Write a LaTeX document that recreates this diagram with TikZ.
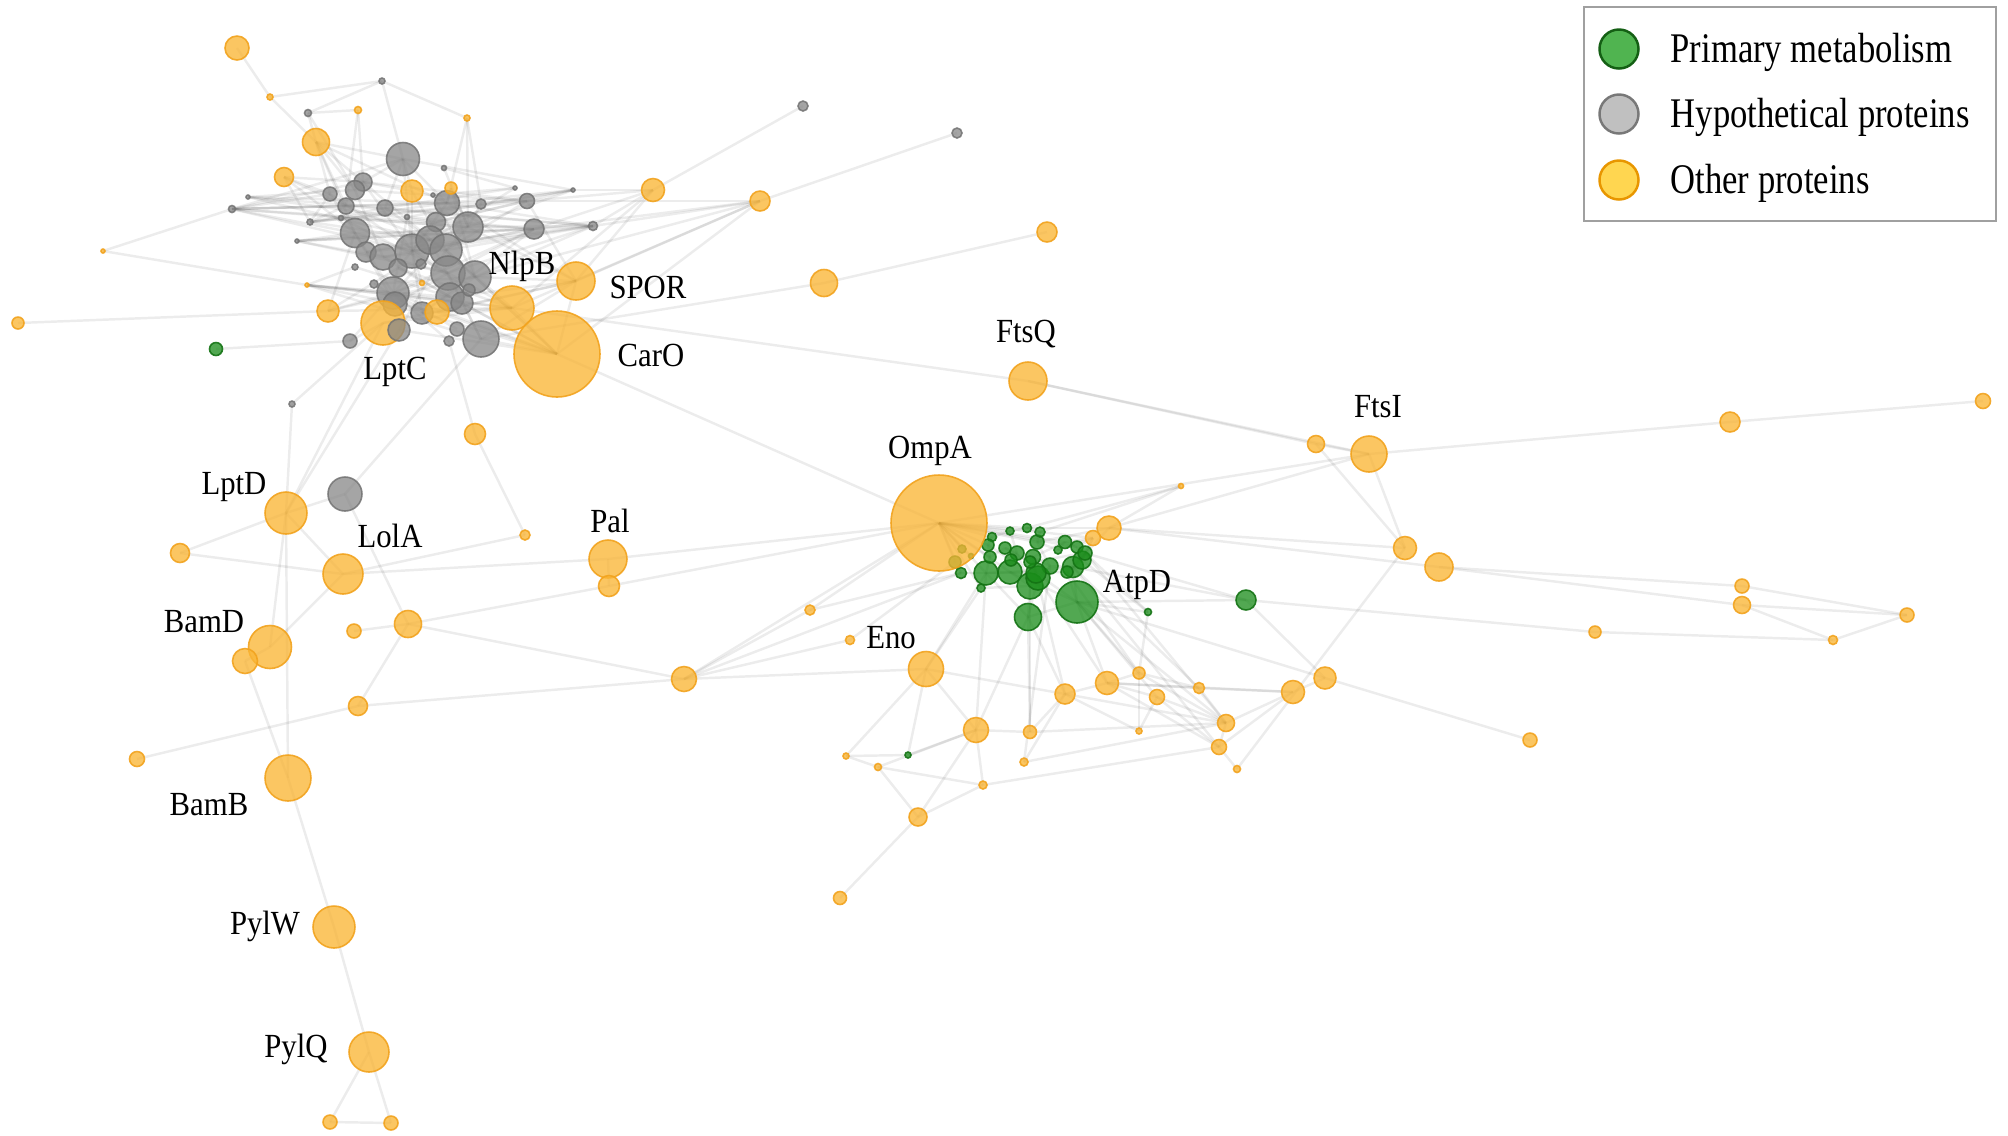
\documentclass[tikz,border=0pt]{standalone}
\usepackage{fontspec}
\usepackage{graphicx}
\setmainfont{Liberation Serif}
\usetikzlibrary{backgrounds}
\definecolor{orfill}{RGB}{250,182,55}
\definecolor{ordraw}{RGB}{242,163,30}
\definecolor{gyfill}{RGB}{135,135,135}
\definecolor{gydraw}{RGB}{115,115,115}
\definecolor{gnfill}{RGB}{25,140,25}
\definecolor{gndraw}{RGB}{20,115,20}
\definecolor{lgA}{RGB}{80,180,80}
\definecolor{lgAd}{RGB}{20,95,20}
\definecolor{lgB}{RGB}{192,192,192}
\definecolor{lgBd}{RGB}{120,120,120}
\definecolor{lgC}{RGB}{255,214,80}
\definecolor{lgCd}{RGB}{232,150,0}
\definecolor{legbd}{RGB}{160,160,160}
\tikzset{
  nd/.style={circle,inner sep=0pt,minimum size=2*#1*0.01cm,line width=0.45pt},
  ornode/.style={nd=#1,fill=orfill,draw=ordraw,fill opacity=0.78,draw opacity=0.9},
  gynode/.style={nd=#1,fill=gyfill,draw=gydraw,fill opacity=0.75,draw opacity=0.85},
  gnnode/.style={nd=#1,fill=gnfill,draw=gndraw,fill opacity=0.75,draw opacity=0.9},
  edge/.style={draw=black,draw opacity=0.075,line width=0.7pt},
  plab/.style={anchor=base,inner sep=0pt,font=\fontsize{9.6}{11}\selectfont},
  legtxt/.style={anchor=base west,inner sep=0pt,font=\fontsize{12}{14}\selectfont},
  legcirc/.style={circle,inner sep=0pt,minimum size=0.39cm,line width=0.7pt}
}
\begin{document}
\begin{tikzpicture}[x=0.01cm,y=-0.01cm]
\useasboundingbox (0,0) rectangle (2008,1135);
% gray nodes
\foreach \nm/\xx/\yy/\rr in {g1/382/81/3,g2/308/113/3.5,g3/403/159/16.5,g4/444/168/2.5,g5/363/182/9,g6/355/190/9.5,g7/330/194/7,g8/346/206/8,g9/385/208/8,g10/310/222/3,g11/341/218/2.5,g12/407/217/2.5,g13/433/195/2,g14/447/203/12.5,g15/481/204/5,g16/527/201/7.5,g17/515/188/2,g18/573/190/2,g19/436/222/9.5,g20/468/227/15,g21/534/229/10,g22/593/226/4.5,g23/355/233/14.5,g24/297/241/2,g25/366/252/10,g26/383/257/13,g27/412/251/17,g28/430/240/14,g29/446/250/16,g30/398/268/9,g31/421/264/5,g32/448/273/17,g33/475/277/16,g34/355/267/3,g35/374/284/4,g36/393/293/16,g38/450/297/14,g39/462/303/11,g40/469/290/6,g41/422/313/11,g42/481/339/18,g43/457/329/7,g44/449/341/5,g45/350/341/7,g46/232/209/3.5,g47/248/197/2,g48/292/404/3,g49/803/106/5,g50/957/133/5,g51/345/494/17,g52/395/304/12}
  \node[gynode=\rr] (\nm) at (\xx,\yy) {};
% green nodes
\foreach \nm/\xx/\yy/\rr in {gr1/216/349/6.5,gr2/961/573/5.5,gr3/981/588/4,gr4/986/573/12,gr5/1010/572/12,gr6/1030/586/13,gr7/1038/578/12,gr8/1050/566/8,gr9/1073/567/10.5,gr10/1082/560/9,gr11/1077/547/6,gr12/1065/542/6.5,gr13/1058/550/4,gr14/1037/542/7,gr15/1040/532/5,gr16/1027/528/4.5,gr17/1010/531/4,gr18/992/537/4.5,gr19/988/545/6,gr20/990/557/6,gr21/1005/548/6,gr22/1017/553/7,gr23/1011/560/6,gr24/1033/557/7.5,gr25/1036/573/10,gr26/1030/562/6,gr27/1085/553/7,gr28/1067/572/6,gr29/1077/602/21,gr30/1028/617/13.5,gr31/1148/612/3.5,gr32/1246/600/10,gr33/908/755/3,gr34/962/549/4,gr35/955/562/6,gr36/971/556/2.5}
  \node[gnnode=\rr] (\nm) at (\xx,\yy) {};
% orange nodes
\foreach \nm/\xx/\yy/\rr in {o1/237/48/12,o2/270/97/3,o3/358/110/3.5,o4/467/118/3,o5/316/142/13.5,o6/284/177/9.5,o7/412/191/11,o8/451/188/6,o9/422/283/2.5,o10/437/312/12,o11/383/323/22,o12/328/311/11,o13/512/308/22,o14/576/281/19,o15/557/354/43,o16/103/251/2,o17/18/323/6,o18/307/285/2,o19/653/190/11.5,o20/760/201/10,o21/1047/232/10,o22/824/283/13.5,o23/1028/381/19,o24/1316/444/8.5,o25/1369/454/18,o26/1730/422/10,o27/1983/401/7.5,o28/1405/548/11.5,o29/1439/567/14,o30/1742/586/7,o31/1742/605/8.5,o32/1907/615/7,o33/1595/632/6,o34/1833/640/4.5,o35/1530/740/7,o36/1325/678/11,o37/1293/692/11.5,o38/475/434/10.5,o39/525/535/5,o40/286/513/21,o41/180/553/9.5,o42/343/574/20,o43/608/559/19,o44/609/586/10.5,o45/270/647/21.5,o46/245/661/12.5,o47/354/631/7,o48/408/624/13.5,o49/684/679/12.5,o50/358/706/9.5,o51/137/759/7.5,o52/288/778/23,o53/334/927/21,o54/369/1052/20,o55/330/1122/7,o56/391/1123/7,o57/939/523/48,o58/1181/486/2.5,o59/1109/528/12,o60/1093/538/7.5,o61/810/610/5,o62/850/640/4.5,o63/926/669/17.5,o64/1065/694/10,o65/1107/683/11.5,o66/1139/673/6,o67/1157/697/7.5,o68/1199/688/5.5,o69/1226/723/8.5,o70/1219/747/7.5,o71/1237/769/3.5,o72/1139/731/3,o73/1030/732/6.5,o74/976/730/12.5,o75/1024/762/4,o76/983/785/4,o77/846/756/3,o78/878/767/3.5,o79/918/817/9,o80/840/898/6.5}
  \node[ornode=\rr] (\nm) at (\xx,\yy) {};
\node[gynode=11] (g37) at (399,330) {};
% edges
\begin{pgfonlayer}{background}
\fill[white] (0,0) rectangle (2008,1135);
\foreach \a/\b in {o1/o2,o2/o5,o2/g1,g2/g1,g2/o3,g2/o5,g2/g6,g1/o4,g1/g3,o3/g8,o3/g5,o4/g14,o4/g20,o4/g15,
g3/g5,g3/g14,g3/g27,g3/o5,g3/o7,g3/g9,
o5/g5,o5/g8,o5/g23,o5/g6,o5/g14,o5/g7,
o6/g7,o6/g23,o6/g10,o6/g5,o6/g8,
g46/g5,g46/g7,g46/g8,g46/g23,g46/g27,g46/g14,g46/g20,g46/g16,g46/g21,g46/g3,g46/o16,
g47/g6,g47/g9,g47/g14,g47/g19,g47/g28,
g24/g23,g24/g26,g24/g32,g24/g20,g24/g21,g24/g22,
g10/g7,g10/g8,g10/g9,g10/g14,g10/g15,g10/g16,g10/g28,
o18/g34,o18/g36,o18/g38,o18/g39,o18/g42,o18/o10,o18/o13,o18/o16,
g22/g20,g22/g29,g22/g32,g22/g33,g22/g27,g22/g14,g22/g9,g22/g8,g22/g25,
g18/g14,g18/g15,g18/g19,g18/g3,g18/g12,g18/g28,
g17/g9,g17/g13,g17/g4,g17/g27,
g16/g5,g16/g6,g16/g19,g16/g29,
g21/g23,g21/g26,g21/g27,g21/g32,g21/g36,g21/g41,
o14/g14,o14/g20,o14/g33,o14/g38,o14/o10,o14/g42,o14/o11,o14/g16,
o13/g32,o13/g36,o13/g41,o13/g30,o13/o11,o13/o12,o13/g29,
o15/g42,o15/g38,o15/g39,o15/o10,o15/g41,o15/g33,o15/o13,o15/g36,o15/g29,o15/o14,o15/o20,o15/g37}
  \draw[edge] (\a.center) -- (\b.center);
\foreach \a/\b in {g5/g27,g6/g26,g7/g23,g8/g28,g9/g29,g11/g32,g12/g36,g13/g33,g14/g27,g19/g30,g20/g29,g23/g36,g25/g32,g26/g38,g27/g41,g28/g42,g29/g37,g30/g39,g31/g36,g32/g42,g33/g41,g34/g38,g35/g41,g36/g44,g23/g27,g25/g28,g26/g29,g5/g33,g7/g32,g4/g20,g15/g20,g40/g27,g43/g36,g52/g32,g52/g23,g35/g33,g11/g20,g12/g21,
o7/g27,o7/g29,o7/g5,o8/g14,o8/g20,o8/g33,
g45/o11,g45/g36,gr1/g45,o17/o12,o12/g23,o12/g36,o12/g30,o12/g33,
g48/o11,g48/o40,o11/o40,o40/g37,g44/o38,o38/o39,g51/g42,g51/o48,o9/g27,o9/g36,
o19/g49,o19/g22,o19/g18,o19/g21,o19/o14,o19/o13,o19/g16,
o20/g50,o20/g22,o20/g21,o20/g16,o20/g33,o20/o13,o20/o14,
o22/o21,o22/g42,o13/o23,o15/o57,o23/o24,o23/o25,o24/o25,o24/o28,o25/o28,o25/o26,o26/o27,o25/o57,o25/o59,
o40/o41,o40/o42,o40/g51,o40/o45,o40/o52,o41/o42,o42/o43,o42/o39,o42/o45,o46/o52,o45/o46,o47/o48,o48/o44,o48/o49,o48/o50,o50/o51,o50/o49,o52/o53,o53/o54,o54/o55,o54/o56,o55/o56,o43/o57,o44/o57,o43/o44}
  \draw[edge] (\a.center) -- (\b.center);
\foreach \a/\b in {o59/o29,gr32/o33,gr32/o36,gr32/gr29,gr32/gr27,gr32/gr9,gr29/o36,o36/o35,o36/o37,o33/o34,o29/o30,o29/o31,o30/o32,o31/o32,o31/o34,o34/o32,o28/o71,o37/o69,o37/o70,o37/o65,o37/o68,o28/o59,
gr4/o57,gr5/o57,gr17/o57,gr18/o57,gr19/o57,gr2/o57,gr3/o57,gr20/o57,gr15/o57,gr16/o57,gr34/o57,gr35/o57,gr36/o57,gr14/o57,gr12/o57,gr11/o57,
gr11/o60,gr12/o60,gr10/o60,gr15/o60,gr16/o59,gr14/o59,gr27/o60,gr9/o59,gr13/o60,
gr4/gr5,gr5/gr6,gr6/gr7,gr7/gr8,gr8/gr9,gr9/gr10,gr10/gr11,gr11/gr12,gr12/gr13,gr13/gr14,gr14/gr15,gr15/gr16,gr16/gr17,gr17/gr18,gr18/gr19,gr19/gr20,gr20/gr21,gr21/gr22,gr22/gr23,gr23/gr24,gr24/gr25,gr25/gr26,gr26/gr27,gr27/gr28,gr28/gr29,gr4/gr30,gr5/gr29,gr6/gr30,gr25/gr29,gr2/gr4,gr3/gr6,gr4/gr20,gr8/gr24,gr10/gr27,gr9/gr29,gr7/gr30,gr21/gr26,gr22/gr6,gr19/gr23,gr17/gr22,gr24/gr12,gr14/gr8,gr4/gr28,gr5/gr9,gr30/gr29,
o58/gr16,o58/o59,o58/gr15,gr31/gr29,gr31/gr10,gr31/o66,gr31/gr27,
gr30/o74,gr30/o64,gr29/o65,gr29/o67,gr29/o69,gr25/o64,gr6/o73,gr4/o63,gr3/o63,gr2/o61,gr4/o74,gr9/o70,gr27/o69,gr29/o66,gr8/o75,gr2/o49,gr35/o62,o57/o49,o57/o61,gr30/o73,gr7/o65,gr28/o66,gr9/o68,
o63/o49,o63/o74,o63/o77,o63/gr33,o63/o64,o61/o49,o62/o49,o74/o73,o74/o76,o74/o79,o74/gr33,o77/gr33,o77/o78,o78/o76,o78/o74,o76/o70,o75/o64,o75/o69,o73/o69,o73/o64,o64/o65,o64/o69,o65/o66,o65/o67,o65/o68,o65/o70,o66/o72,o66/o68,o66/o69,o67/o72,o67/o69,o67/o70,o68/o69,o69/o70,o70/o71,o79/o80,o79/o76,o79/o78,o72/o64}
  \draw[edge] (\a.center) -- (\b.center);
\end{pgfonlayer}
% labels
\node[plab] (lNlpB) at (522,274) {\scalebox{0.91}[1]{NlpB}};
\node[plab] (lSPOR) at (648,298) {\scalebox{0.91}[1]{SPOR}};
\node[plab] (lCarO) at (651,366) {\scalebox{0.91}[1]{CarO}};
\node[plab] (lLptC) at (395,379) {\scalebox{0.91}[1]{LptC}};
\node[plab] (lFtsQ) at (1026,342) {\scalebox{0.91}[1]{FtsQ}};
\node[plab] (lFtsI) at (1378,417) {\scalebox{0.91}[1]{FtsI}};
\node[plab] (lOmpA) at (930,458) {\scalebox{0.91}[1]{OmpA}};
\node[plab] (lLptD) at (234,494) {\scalebox{0.91}[1]{LptD}};
\node[plab] (lLolA) at (390,547) {\scalebox{0.91}[1]{LolA}};
\node[plab] (lPal) at (610,532) {\scalebox{0.91}[1]{Pal}};
\node[plab] (lBamD) at (204,632) {\scalebox{0.91}[1]{BamD}};
\node[plab] (lAtpD) at (1137,592) {\scalebox{0.91}[1]{AtpD}};
\node[plab] (lEno) at (891,648) {\scalebox{0.91}[1]{Eno}};
\node[plab] (lBamB) at (209,815) {\scalebox{0.91}[1]{BamB}};
\node[plab] (lPylW) at (265,934) {\scalebox{0.91}[1]{PylW}};
\node[plab] (lPylQ) at (296,1057) {\scalebox{0.91}[1]{PylQ}};
% legend
\node[draw=legbd,line width=0.6pt,fill=white,minimum width=4.12cm,minimum height=2.14cm,inner sep=0pt] (legend) at (1790,114) {};
\node[legcirc,fill=lgA,draw=lgAd] (lc1) at (1619,49) {};
\node[legcirc,fill=lgB,draw=lgBd] (lc2) at (1619,114) {};
\node[legcirc,fill=lgC,draw=lgCd] (lc3) at (1619,180) {};
\node[legtxt] (lt1) at (1670,62) {\scalebox{0.82}[1]{Primary metabolism}};
\node[legtxt] (lt2) at (1670,127) {\scalebox{0.82}[1]{Hypothetical proteins}};
\node[legtxt] (lt3) at (1670,193) {\scalebox{0.82}[1]{Other proteins}};
\end{tikzpicture}
\end{document}
